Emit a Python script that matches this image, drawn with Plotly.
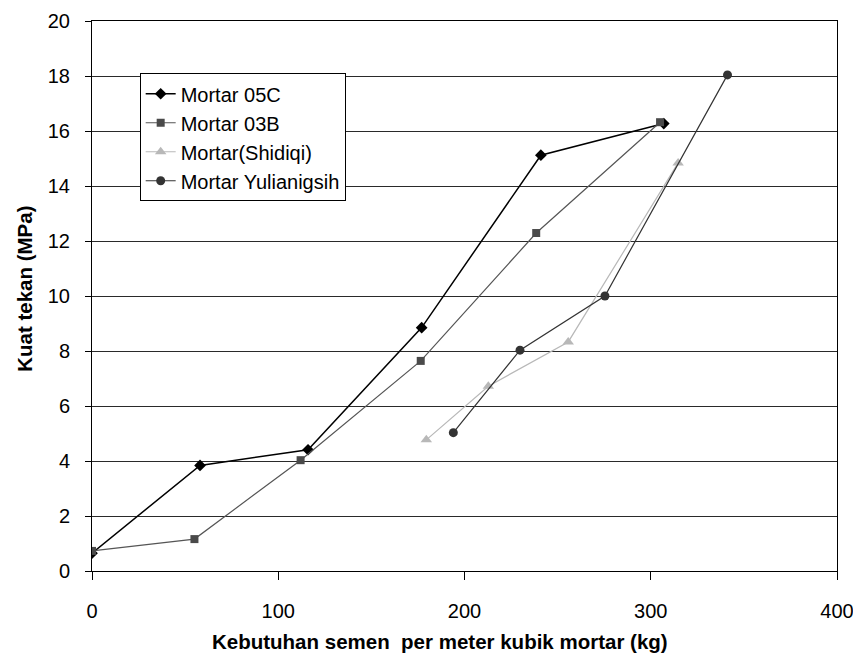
import plotly.graph_objects as go

# Data
x_05c = [0, 58, 116, 177, 241, 307]
y_05c = [0.65, 3.84, 4.41, 8.85, 15.12, 16.27]

x_03b = [0, 55, 112, 176.5, 238.5, 305]
y_03b = [0.73, 1.16, 4.03, 7.64, 12.29, 16.32]

x_shid = [179.5, 212.8, 255.7, 314.7]
y_shid = [4.77, 6.72, 8.33, 14.84]

x_yuli = [194, 229.8, 275.4, 341.2]
y_yuli = [5.03, 8.03, 10.0, 18.04]

series_names = ["Mortar 05C", "Mortar 03B", "Mortar(Shidiqi)", "Mortar Yulianigsih"]

x_ticks = [0, 100, 200, 300, 400]
y_ticks = [0, 2, 4, 6, 8, 10, 12, 14, 16, 18, 20]

x_title = "Kebutuhan semen\u00a0 per meter kubik mortar (kg)"
y_title = "Kuat tekan (MPa)"

FONT = "Liberation Sans, Arial, sans-serif"

fig = go.Figure()
fig.add_trace(go.Scatter(x=x_05c, y=y_05c, name=series_names[0], mode="lines+markers",
                         line=dict(color="#000000", width=1.5),
                         marker=dict(symbol="diamond", size=9, color="#000000")))
fig.add_trace(go.Scatter(x=x_03b, y=y_03b, name=series_names[1], mode="lines+markers",
                         line=dict(color="#555555", width=1.2),
                         marker=dict(symbol="square", size=8, color="#4a4a4a")))
fig.add_trace(go.Scatter(x=x_shid, y=y_shid, name=series_names[2], mode="lines+markers",
                         line=dict(color="#b8b8b8", width=1.2),
                         marker=dict(symbol="triangle-up", size=10, color="#b8b8b8")))
fig.add_trace(go.Scatter(x=x_yuli, y=y_yuli, name=series_names[3], mode="lines+markers",
                         line=dict(color="#333333", width=1.2),
                         marker=dict(symbol="circle", size=9, color="#333333")))

fig.update_layout(
    width=845, height=647,
    margin=dict(l=84, r=16, t=13, b=84),
    paper_bgcolor="white", plot_bgcolor="white",
    font=dict(family=FONT, color="#000000", size=20),
    showlegend=True,
    legend=dict(x=0.064, y=0.905, xanchor="left", yanchor="top",
                bgcolor="white", bordercolor="#000000", borderwidth=1,
                font=dict(family=FONT, size=20, color="#000000")),
    xaxis=dict(range=[0, 400], tickvals=x_ticks, ticktext=[str(v) for v in x_ticks],
               showgrid=False, zeroline=False, showline=True, linecolor="#000000",
               linewidth=1, mirror=True, ticks="outside", ticklen=8, tickcolor="#000000",
               ticklabelstandoff=14, tickfont=dict(size=20), automargin=False,
               ticklabeloverflow="allow"),
    yaxis=dict(range=[0, 20], tickvals=y_ticks, ticktext=[str(v) for v in y_ticks],
               showgrid=True, gridcolor="#2a2a2a", gridwidth=1,
               zeroline=False, showline=True, linecolor="#000000",
               linewidth=1, mirror=True, ticks="outside", ticklen=6, tickcolor="#000000",
               ticklabelstandoff=11, tickfont=dict(size=20), automargin=False,
               ticklabeloverflow="allow"),
    annotations=[
        dict(text="<b>" + x_title + "</b>", xref="paper", yref="paper", x=0.467, y=0,
             yshift=-70, xanchor="center", yanchor="middle", showarrow=False,
             font=dict(family=FONT, size=20.5, color="#000000")),
        dict(text="<b>" + y_title + "</b>", xref="paper", yref="paper", x=0, y=0.513,
             xshift=-67, xanchor="center", yanchor="middle", textangle=-90, showarrow=False,
             font=dict(family=FONT, size=20.5, color="#000000")),
    ],
)

fig.write_html("out.html")
